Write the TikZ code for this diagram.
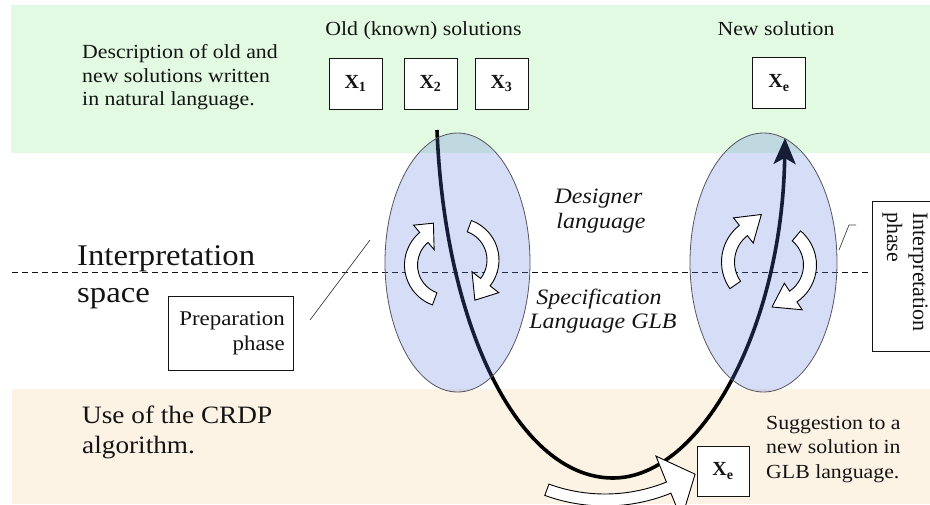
\documentclass[tikz,border=0pt]{standalone}
\usepackage{fontspec}
\setmainfont{Liberation Serif}
\usepackage{graphicx}
\usetikzlibrary{arrows.meta,shapes.geometric}
\definecolor{bandgreen}{RGB}{226,250,226}
\definecolor{bandorange}{RGB}{253,243,229}
\definecolor{ellblue}{RGB}{91,119,223}
\definecolor{ellline}{RGB}{85,85,95}
\definecolor{ink}{RGB}{20,20,20}
\newcommand\wx[1]{\scalebox{1.09}[1]{#1}}
\newcommand\fsz[1]{\fontsize{#1}{#1}\selectfont}
% curved block arrow: cx cy r startangle baseangle tipangle halfwidth halfhead tipradius
\newcommand\carrow[9]{%
  \begin{scope}[shift={(#1,#2)}]
    \draw[blockarrow] (#4:{#3+#7}) arc[start angle=#4,end angle=#5,radius={#3+#7}]
      -- (#5:{#3+#8}) -- (#6:#9) -- (#5:{#3-#8}) -- (#5:{#3-#7})
      arc[start angle=#5,end angle=#4,radius={#3-#7}] -- cycle;
  \end{scope}}
\tikzset{
  blockarrow/.style={draw=black,fill=white,line width=0.9pt,line join=miter},
  ell/.style={ellipse,draw=ellline,line width=0.8pt,fill=ellblue,fill opacity=0.25,inner sep=0pt},
  xbox/.style={draw=ink,fill=white,line width=1pt,minimum width=53,minimum height=51,inner sep=0pt,font=\fsz{20}\bfseries,text=ink},
  txt/.style={inner sep=0pt,text=ink},
  frame/.style={draw=ink,fill=white,line width=0.9pt,inner sep=0pt},
  callout/.style={draw=ink!80,line width=0.7pt},
  bigline/.style={draw=black,line width=3.6pt,-{Stealth[length=26pt,width=22pt,inset=6pt]}}
}
\begin{document}
\begin{tikzpicture}[x=1pt,y=-1pt]
\useasboundingbox (0,0) rectangle (930,504);
\clip (0,0) rectangle (930,504);
% bands
\fill[bandgreen] (11,5) rectangle (930,153);
\fill[bandorange] (12,389) rectangle (930,504);
% interpretation phase box (right)
\node[frame,anchor=north west,minimum width=80,minimum height=150] (ipbox) at (872,201) {};
\node[txt,rotate=-90,anchor=base west,font=\fsz{22}] (ip1) at (913,212) {Interpretation};
\node[txt,rotate=-90,anchor=base west,font=\fsz{22}] (ip2) at (887,212) {phase};
% dashed separation line
\coordinate (dl) at (12,272);
\draw[ink,line width=0.8pt,dash pattern=on 6pt off 4pt] (dl) -- (dl -| ipbox.west);
% main curve
\coordinate (cs) at (437,130);
\coordinate (cb) at (613,478);
\coordinate (ce) at (785,138);
\draw[bigline] (cs) .. controls (445,330) and (520,478) .. (cb) .. controls (700,478) and (782,330) .. (ce);
% ellipses
\node[ell,minimum width=145,minimum height=259] (ellL) at (457.5,262.5) {};
\node[ell,minimum width=147,minimum height=259] (ellR) at (763.5,262.5) {};
% circular arrows
\carrow{447}{265}{36}{110}{230}{252}{6.5}{16}{44}
\carrow{457}{260}{36}{-70}{38}{66}{6}{17}{44}
\carrow{768}{262}{40}{145}{232}{262}{6.5}{16}{48}
\carrow{772}{265}{38}{-50}{56}{90}{6.5}{16}{42}
% bottom arrow
\carrow{605}{330}{170}{110}{68}{58}{6}{34}{170}
% callout lines
\coordinate (pl1) at (310,320);
\coordinate (pl2) at (370,240);
\draw[callout] (pl1) -- (pl2);
\coordinate (il1) at (839,250);
\coordinate (il2) at (849,225);
\coordinate (il3) at (856,225);
\draw[callout] (il1) -- (il2) -- (il3);
% preparation phase box
\node[frame,anchor=north west,minimum width=125,minimum height=74] (prepbox) at (168,296) {};
\node[txt,anchor=base east,font=\fsz{21}] (prep1) at (285,325) {\wx{Preparation}};
\node[txt,anchor=base east,font=\fsz{21}] (prep2) at (285,350) {\wx{phase}};
% top texts
\node[txt,anchor=base west,font=\fsz{20}] (d1) at (82,58) {\wx{Description of old and}};
\node[txt,anchor=base west,font=\fsz{20}] (d2) at (82,82) {\wx{new solutions written}};
\node[txt,anchor=base west,font=\fsz{20}] (d3) at (82,105) {\wx{in natural language.}};
\node[txt,anchor=base,font=\fsz{20}] (old) at (423.5,35) {\wx{Old (known) solutions}};
\node[txt,anchor=base,font=\fsz{20}] (new) at (776,35) {\wx{New solution}};
% solution boxes
\node[xbox] (x1) at (355.5,83.5) {X\textsubscript{1}};
\node[xbox] (x2) at (430.5,83.5) {X\textsubscript{2}};
\node[xbox] (x3) at (501.5,83.5) {X\textsubscript{3}};
\node[xbox] (xe) at (779,83) {X\textsubscript{e}};
\node[xbox,minimum width=52,minimum height=50] (xb) at (723,471) {X\textsubscript{e}};
% middle texts
\node[txt,anchor=base west,font=\fsz{30}] (is1) at (77,265) {\wx{Interpretation}};
\node[txt,anchor=base west,font=\fsz{30}] (is2) at (77,302) {\wx{space}};
\node[txt,anchor=base,font=\fsz{22}\itshape] (dg1) at (598.5,203) {\wx{Designer}};
\node[txt,anchor=base,font=\fsz{22}\itshape] (dg2) at (601,228) {\wx{language}};
\node[txt,anchor=base,font=\fsz{22}\itshape] (sp1) at (599,304) {\wx{Specification}};
\node[txt,anchor=base,font=\fsz{22}\itshape] (sp2) at (603,328) {\wx{Language GLB}};
% bottom texts
\node[txt,anchor=base west,font=\fsz{25}] (u1) at (82,423) {\wx{Use of the CRDP}};
\node[txt,anchor=base west,font=\fsz{25}] (u2) at (82,453) {\wx{algorithm.}};
\node[txt,anchor=base west,font=\fsz{20}] (s1) at (766,429) {\wx{Suggestion to a}};
\node[txt,anchor=base west,font=\fsz{20}] (s2) at (766,453) {\wx{new solution in}};
\node[txt,anchor=base west,font=\fsz{20}] (s3) at (766,478) {\wx{GLB language.}};
\end{tikzpicture}
\end{document}
